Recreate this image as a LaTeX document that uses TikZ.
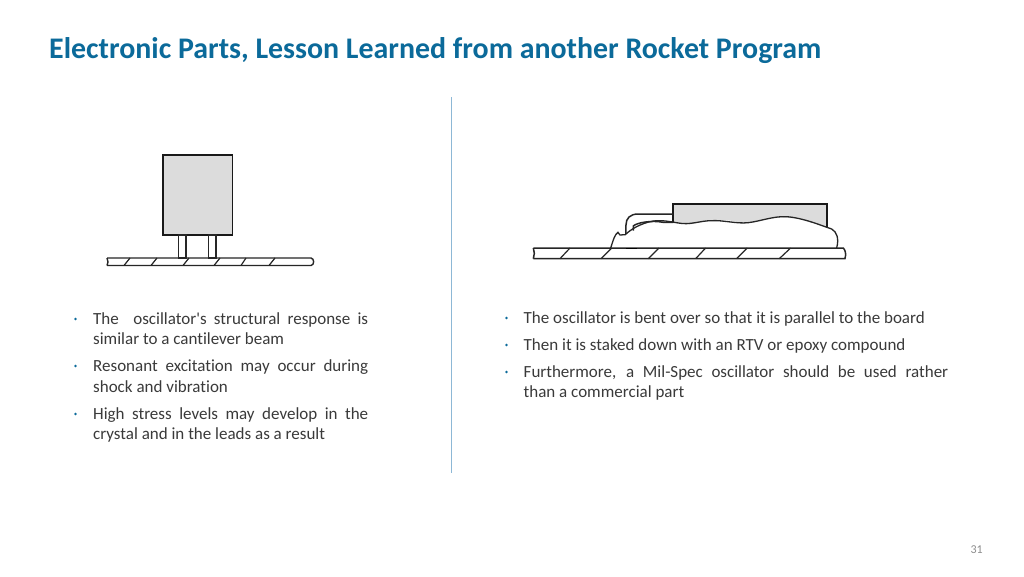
\documentclass[tikz,border=0pt]{standalone}
\usepackage{fontspec}
\setmainfont{Carlito}[Ligatures=NoCommon]
\newfontfamily\plainc{Carlito}[Ligatures=NoCommon]
\definecolor{titleblue}{HTML}{0B6A9A}
\definecolor{bodytext}{HTML}{3A3A3A}
\definecolor{rulecol}{HTML}{8DB8D6}
\definecolor{partgray}{HTML}{DCDCDC}
\definecolor{pagegray}{HTML}{8C8C8C}
\tikzset{
  px/.style={x=1pt,y=-1pt},
  titletext/.style={anchor=base west,inner sep=0pt,font=\fontsize{29.9}{34}\selectfont\bfseries,text=titleblue},
  bodypara/.style={anchor=north west,inner sep=0pt,align=justify,text=bodytext,font=\plainc\fontsize{17}{20.5}\selectfont},
  bulletdot/.style={circle,fill=titleblue,inner sep=0pt,minimum size=2.8pt},
  part/.style={draw=black!90,line width=1.5pt,fill=partgray},
  thin part/.style={draw=black!85,line width=1.3pt},
  hatch/.style={draw=black!85,line width=1.2pt},
}
\begin{document}
\begin{tikzpicture}[px]
\useasboundingbox[fill=white] (0,0) rectangle (1024,576);
\node[titletext] (title) at (49,58) {Electronic Parts, Lesson Learned from another Rocket Program};
\fill[rulecol] (450.5,97) rectangle (452,473);
% left figure
\draw[part] (163,155) rectangle (232.5,235);
\draw[thin part,fill=white] (178.5,235) rectangle (186,258);
\draw[thin part,fill=white] (208.5,235) rectangle (216,258);
\draw[thin part,line width=1.4pt] (107,258) -- (311,258) .. controls (314.5,258.5) and (314.5,265) .. (311,265.5) -- (107,265.5) (107,258) -- (108,262) -- (107,265.5);
\foreach \a/\b in {124/130,151/157,183/189,214/220,241/246,269/275}
  \draw[hatch] (\a,265.5) -- (\b,258);
% right figure (zoom-scale coordinates)
\begin{scope}[shift={(520,190)},x=.3333pt,y=-.3333pt]
  \path[fill=partgray] (460,43) -- (922,43) -- (922,112) -- (830,85) -- (760,82) -- (680,100) -- (620,90) -- (570,92) -- (510,103) -- (460,97) -- cycle;
  \draw[part,line width=1.7pt,fill=none] (460,97) -- (460,43) -- (922,43) -- (922,112);
  \draw[thin part,line width=1.5pt] (460,72) -- (355,72) .. controls (330,72) and (318,85) .. (318,105) -- (318,132);
  \draw[thin part,line width=1.5pt] (460,97) -- (430,97) .. controls (395,90) and (350,98) .. (340,108) -- (340,122);
  \draw[thin part,line width=1.3pt]
    (272,174) .. controls (277,160) and (280,145) .. (288,133) -- (294,127) -- (300,135) -- (316,134)
    .. controls (330,120) and (360,100) .. (400,93)
    .. controls (430,90) and (450,95) .. (475,99)
    .. controls (510,106) and (540,92) .. (575,92)
    .. controls (610,90) and (650,102) .. (685,98)
    .. controls (720,94) and (760,78) .. (800,80)
    .. controls (850,84) and (900,105) .. (935,117)
    .. controls (950,125) and (958,145) .. (950,174);
  \draw[thin part,line width=1.5pt] (40,174) -- (970,174) .. controls (975,180) and (980,190) .. (975,206) -- (40,206) (40,174) -- (43,190) -- (40,206);
  \draw[line width=1.5pt,black] (318,176) -- (350,176);
  \foreach \a/\b in {120/150,243/275,385/417,527/557,650/682,778/812}
    \draw[hatch] (\a,206) -- (\b,174);
\end{scope}
% left bullets
\node[bulletdot] (bl1) at (75.5,319) {};
\node[bulletdot] (bl2) at (75.5,366) {};
\node[bulletdot] (bl3) at (75.5,414) {};
\node[bodypara,text width=275pt] (tl1) at (93,312) {The\ \ oscillator's structural response is\linebreak similar to a cantilever beam};
\node[bodypara,text width=275pt] (tl2) at (93,359.5) {Resonant excitation may occur during\linebreak shock and vibration};
\node[bodypara,text width=275pt] (tl3) at (93,407) {High stress levels may develop in the\linebreak crystal and in the leads as a result};
% right bullets
\node[bulletdot] (br1) at (506.5,318) {};
\node[bulletdot] (br2) at (506.5,345) {};
\node[bulletdot] (br3) at (506.5,372) {};
\node[bodypara,text width=424.5pt] (tr1) at (523.5,311) {The oscillator is bent over so that it is parallel to the board};
\node[bodypara,text width=424.5pt] (tr2) at (523.5,338) {Then it is staked down with an RTV or epoxy compound};
\node[bodypara,text width=424.5pt] (tr3) at (523.5,365) {Furthermore, a Mil-Spec oscillator should be used rather\linebreak than a commercial part};
\node[anchor=base east,inner sep=0pt,text=pagegray,font=\fontsize{12}{14}\selectfont] (page) at (983,553) {31};
\end{tikzpicture}
\end{document}
